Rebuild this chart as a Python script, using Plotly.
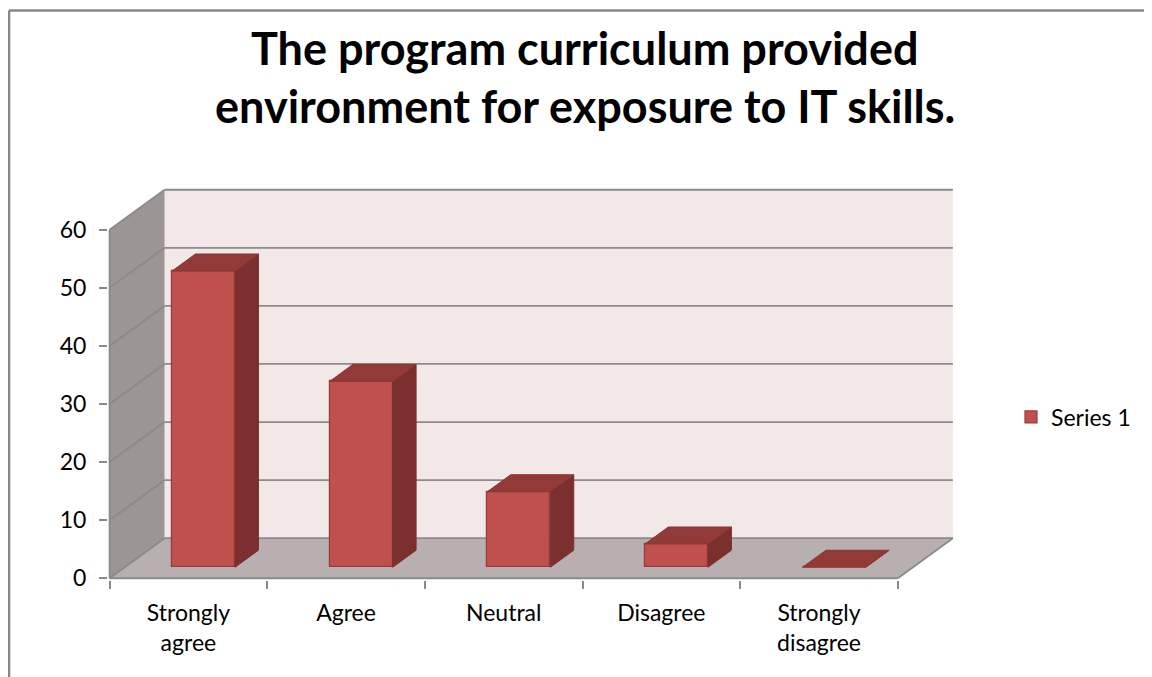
import plotly.graph_objects as go

# ---- data ----
categories = ["Strongly<br>agree", "Agree", "Neutral", "Disagree", "Strongly<br>disagree"]
values = [51, 32, 13, 4, 0]
y_ticks = [0, 10, 20, 30, 40, 50, 60]
series_name = "Series 1"
title_lines = ["The program curriculum provided", "environment for exposure to IT skills."]

# ---- geometry (pseudo-3D, in data units) ----
OFF = 8                  # page body margin of the html page
W_FIG, H_FIG = 1152 - OFF, 677 - OFF
PX_CAT = 157.6           # pixels per category
PX_UNIT = 5.8            # pixels per value unit
DX = 55 / PX_CAT         # depth offset in category units
DY = 40 / PX_UNIT        # depth offset in value units
F0 = 0.275               # front depth fraction of bars
FT = 0.425               # depth thickness fraction of bars
BAR_W = 0.4
YMAX = 60

n = len(categories)
x0, x1 = -0.5, n - 0.5
xr = [x0 - 0.01, x1 + DX + 0.02]
yr = [-0.3, YMAX + DY + 0.3]

X0_PX = 110 - OFF
Y0_PX = 578 - OFF
L = X0_PX + (xr[0] - x0) * PX_CAT
R = W_FIG - (X0_PX + (xr[1] - x0) * PX_CAT)
B = H_FIG - (Y0_PX - yr[0] * PX_UNIT)
T = Y0_PX - yr[1] * PX_UNIT
PW = W_FIG - L - R
PH = H_FIG - T - B

def px2paper_x(px):
    return (px - OFF - L) / PW

def px2paper_y(py):
    return ((H_FIG - B) - (py - OFF)) / PH

FONT = "Lato, Calibri, Carlito, sans-serif"
GRID = "#8a8a8a"
LEFT_WALL = "#9b9595"
BACK_WALL = "#f3e8e8"
FLOOR = "#b8b0b0"
FRONT = "#c0504d"
TOP = "#913a38"
SIDE = "#7b2f2e"
EDGE = "#9a3a37"

shapes = []
def poly(pts, fill, line_color=None, lw=0, layer="below"):
    path = "M " + " L ".join(f"{a},{b}" for a, b in pts) + " Z"
    shapes.append(dict(type="path", path=path, xref="x", yref="y", layer=layer,
                       fillcolor=fill, line=dict(color=line_color or fill, width=lw)))

def seg(p, q, color=GRID, w=1.8):
    shapes.append(dict(type="line", xref="x", yref="y", layer="below",
                       x0=p[0], y0=p[1], x1=q[0], y1=q[1], line=dict(color=color, width=w)))

# walls
poly([(x0 + DX, DY), (x1 + DX, DY), (x1 + DX, YMAX + DY), (x0 + DX, YMAX + DY)], BACK_WALL)
poly([(x0, 0), (x0, YMAX), (x0 + DX, YMAX + DY), (x0 + DX, DY)], LEFT_WALL)
poly([(x0, 0), (x1, 0), (x1 + DX, DY), (x0 + DX, DY)], FLOOR)

# gridlines on left and back walls
for v in y_ticks:
    seg((x0, v), (x0 + DX, v + DY))
    seg((x0 + DX, v + DY), (x1 + DX, v + DY))
# floor edges and front vertical edge
seg((x0, 0), (x1, 0))
seg((x1, 0), (x1 + DX, DY))
seg((x0, 0), (x0, YMAX))

fig = go.Figure()

xs = list(range(n))
front_x = [i + F0 * DX for i in xs]
base = F0 * DY
sdx, sdy = FT * DX, FT * DY

# side and top faces derived from values
for cx, v in zip(front_x, values):
    xl, xrr = cx - BAR_W / 2, cx + BAR_W / 2
    top = base + v
    side = [(xrr, base), (xrr, top), (xrr + sdx, top + sdy), (xrr + sdx, base + sdy), (xrr, base)]
    fig.add_trace(go.Scatter(x=[p[0] for p in side], y=[p[1] for p in side], mode="lines",
                             fill="toself", fillcolor=SIDE, line=dict(color=SIDE, width=1),
                             hoverinfo="skip", showlegend=False))
    tp = [(xl, top), (xrr, top), (xrr + sdx, top + sdy), (xl + sdx, top + sdy), (xl, top)]
    fig.add_trace(go.Scatter(x=[p[0] for p in tp], y=[p[1] for p in tp], mode="lines",
                             fill="toself", fillcolor=TOP, line=dict(color="#8a3533", width=1),
                             hoverinfo="skip", showlegend=False))

fig.add_trace(go.Bar(x=front_x, y=values, base=base, width=BAR_W, name=series_name,
                     marker=dict(color=FRONT, line=dict(color=EDGE, width=1.2)),
                     showlegend=True))

# chart border (outer frame: left and top edges visible in the crop)
for sx0, sy0, sx1, sy1 in [(9.5, 11, 9.5, 720), (9.5, 11, 1200, 11)]:
    shapes.append(dict(type="line", xref="paper", yref="paper", layer="above",
                       x0=px2paper_x(sx0), x1=px2paper_x(sx1),
                       y0=px2paper_y(sy0), y1=px2paper_y(sy1),
                       line=dict(color="#888888", width=2.5)))

annotations = []
for txt, py in zip(title_lines, [48, 106]):
    annotations.append(dict(text=f"<b>{txt}</b>", x=px2paper_x(585), y=px2paper_y(py),
                            xref="paper", yref="paper", showarrow=False,
                            xanchor="center", yanchor="middle",
                            font=dict(family=FONT, size=45, color="#000000")))

fig.update_layout(
    width=W_FIG, height=H_FIG,
    margin=dict(l=L, r=R, t=T, b=B, pad=0),
    paper_bgcolor="white", plot_bgcolor="white",
    font=dict(family=FONT, size=23, color="#000000"),
    shapes=shapes, annotations=annotations,
    showlegend=True,
    legend=dict(xref="container", yref="container", x=(1011 - OFF) / W_FIG,
                y=1 - (417 - OFF) / H_FIG,
                xanchor="left", yanchor="middle", font=dict(family=FONT, size=23, color="#000000"),
                bgcolor="rgba(0,0,0,0)", itemwidth=30),
    bargap=0,
)

fig.update_xaxes(range=xr, showgrid=False, zeroline=False, showline=False,
                 tickvals=[i for i in xs], ticktext=categories, ticks="",
                 ticklabelstandoff=17,
                 minor=dict(tickvals=[i - 0.5 for i in range(n + 1)], ticks="outside",
                            ticklen=8, tickcolor=GRID, tickwidth=1.8, showgrid=False),
                 fixedrange=True)
fig.update_yaxes(range=yr, showgrid=False, zeroline=False, showline=False,
                 tickvals=y_ticks, ticks="outside", ticklen=8, tickcolor=GRID, tickwidth=1.8,
                 ticklabelstandoff=8, fixedrange=True)

fig.write_html("out.html")
